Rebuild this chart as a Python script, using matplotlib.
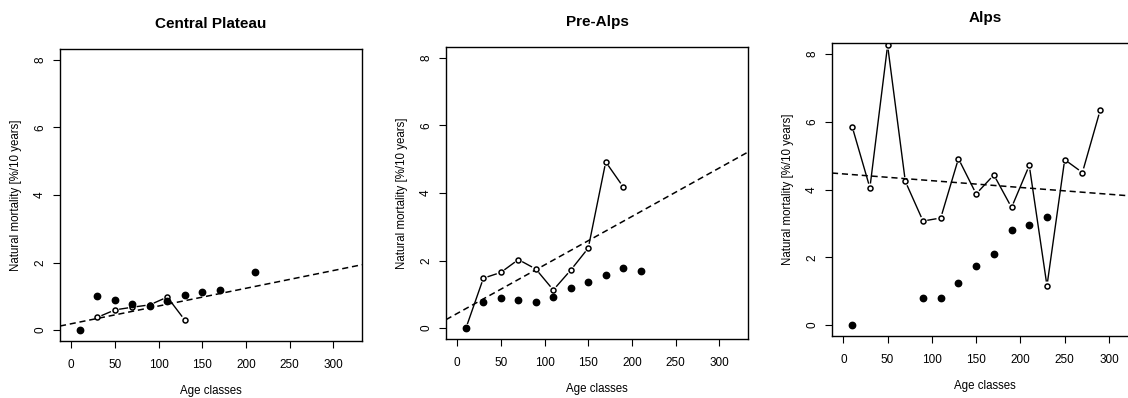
import numpy as np
import matplotlib
matplotlib.use("Agg")
import matplotlib.pyplot as plt

plt.rcParams['font.family'] = ['Liberation Sans', 'DejaVu Sans']

# age classes (midpoints) and mortality per region
regions = ["Central Plateau", "Pre-Alps", "Alps"]

cp_age_filled = [10, 30, 50, 70, 90, 110, 130, 150, 170, 210]
cp_filled = [0.0, 1.0, 0.9, 0.78, 0.73, 0.87, 1.05, 1.13, 1.2, 1.72]
cp_age_open = [30, 50, 70, 90, 110, 130]
cp_open = [0.38, 0.6, 0.68, 0.75, 0.98, 0.3]
cp_fit = (0.19, 0.00525)   # intercept, slope

pa_age_filled = [10, 30, 50, 70, 90, 110, 130, 150, 170, 190, 210]
pa_filled = [0.0, 0.78, 0.88, 0.83, 0.78, 0.92, 1.2, 1.36, 1.58, 1.78, 1.7]
pa_age_open = [10, 30, 50, 70, 90, 110, 130, 150, 170, 190]
pa_open = [0.0, 1.48, 1.65, 2.03, 1.75, 1.13, 1.72, 2.37, 4.92, 4.18]
pa_fit = (0.436, 0.01435)

al_age_filled = [10, 90, 110, 130, 150, 170, 190, 210, 230]
al_filled = [0.0, 0.81, 0.8, 1.23, 1.73, 2.1, 2.81, 2.95, 3.18]
al_age_open = [10, 30, 50, 70, 90, 110, 130, 150, 170, 190, 210, 230, 250, 270, 290]
al_open = [5.85, 4.05, 8.25, 4.24, 3.07, 3.16, 4.91, 3.87, 4.43, 3.47, 4.71, 1.16, 4.88, 4.5, 6.33]
al_fit = (4.46, -0.002)

W, H = 1128, 398
# axes boxes in pixels: left, right, top, bottom
boxes = [(60, 362, 49, 341), (446, 748, 47, 339), (832, 1138, 43, 336)]

fig = plt.figure(figsize=(W / 100, H / 100), dpi=100)


def gapped_line(ax, xs, ys, gap=5.0):
    # line segments between points, stopping short of each marker (R type="b")
    fig.canvas.draw()
    pts = ax.transData.transform(np.column_stack([xs, ys]))
    inv = ax.transData.inverted()
    for p0, p1 in zip(pts[:-1], pts[1:]):
        d = p1 - p0
        L = np.hypot(*d)
        if L <= 2 * gap:
            continue
        u = d / L
        a = inv.transform(p0 + u * gap)
        b = inv.transform(p1 - u * gap)
        ax.plot([a[0], b[0]], [a[1], b[1]], color='black', lw=1.0)


data = [
    (cp_age_filled, cp_filled, cp_age_open, cp_open, cp_fit),
    (pa_age_filled, pa_filled, pa_age_open, pa_open, pa_fit),
    (al_age_filled, al_filled, al_age_open, al_open, al_fit),
]

for (l, r, t, b), title, (xf, yf, xo, yo, fit) in zip(boxes, regions, data):
    ax = fig.add_axes([l / W, 1 - b / H, (r - l) / W, (b - t) / H])
    ax.set_xlim(-12.8, 332.8)
    ax.set_ylim(-0.32, 8.32)

    xx = np.linspace(-12.8, 332.8, 50)
    ax.plot(xx, fit[0] + fit[1] * xx, color='black', lw=1.1, ls=(0, (4, 2.5)))

    gapped_line(ax, xo, yo)
    ax.plot(xo, yo, 'o', ms=3.6, mfc='white', mec='black', mew=1.1, ls='none')
    ax.plot(xf, yf, 'o', ms=4.6, color='black', ls='none')

    ax.set_xticks([0, 50, 100, 150, 200, 250, 300])
    ax.set_yticks([0, 2, 4, 6, 8])
    ax.tick_params(direction='out', length=5, width=0.8, labelsize=8.5)
    ax.tick_params(axis='x', pad=8)
    ax.tick_params(axis='y', pad=5)
    for lab in ax.get_yticklabels():
        lab.set_rotation(90)
        lab.set_va('center')
    for s in ax.spines.values():
        s.set_linewidth(1.0)

    ax.set_title(title, fontsize=11, fontweight='bold', pad=15)
    ax.set_xlabel("Age classes", fontsize=8.3, labelpad=10)
    ax.set_ylabel("Natural mortality [%/10 years]", fontsize=8.3, labelpad=9)

fig.savefig("out.png", dpi=100)
